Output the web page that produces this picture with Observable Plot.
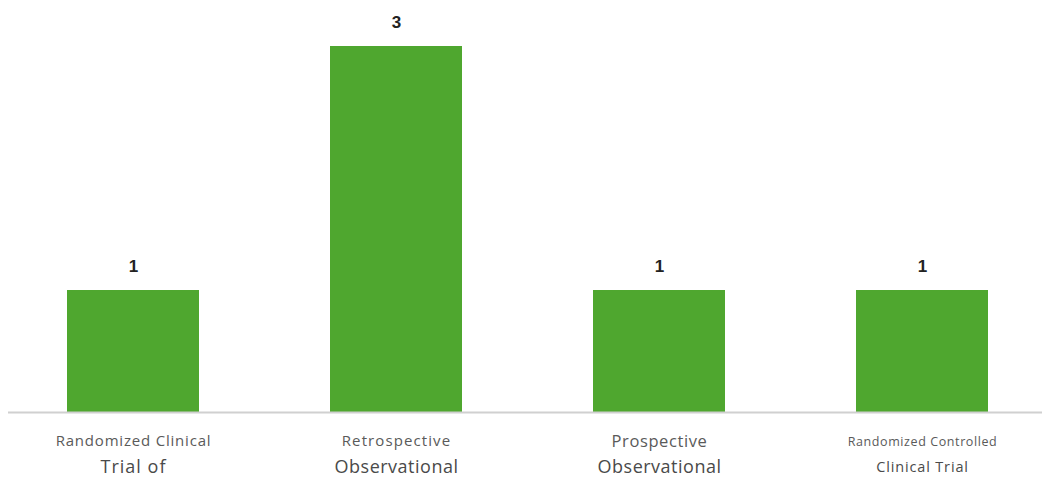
<!DOCTYPE html>
<html>
<head>
<meta charset="utf-8">
<script src="https://cdn.jsdelivr.net/npm/d3@7"></script>
<script src="https://cdn.jsdelivr.net/npm/@observablehq/plot@0.6"></script>
<style>
  html, body { margin: 0; padding: 0; background: #fff; }
  #chart svg { display: block; }
</style>
</head>
<body>
<div id="chart"></div>
<script>
// Data
const categories = ["Randomized Clinical Trial of", "Retrospective Observational", "Prospective Observational", "Randomized Controlled Clinical Trial"];
const counts = [1, 3, 1, 1];
const labelLine1 = ["Randomized Clinical", "Retrospective", "Prospective", "Randomized Controlled"];
const labelLine2 = ["Trial of", "Observational", "Observational", "Clinical Trial"];

// Label styling (kept apart from the data)
const line1Style = [{size: 15, ls: 0.8}, {size: 15, ls: 1.1}, {size: 16.5, ls: 0.6}, {size: 12.5, ls: 0.6}];
const line2Style = [{size: 18, ls: 1.0}, {size: 18, ls: 0.5}, {size: 18, ls: 0.5}, {size: 14.5, ls: 0.85}];

const data = categories.map((c, i) => ({category: c, count: counts[i]}));

const withSpacing = ls => function(index, scales, values, dims, context, next) {
  const g = next(index, scales, values, dims, context);
  if (g) g.setAttribute("letter-spacing", ls);
  return g;
};

const labelMarks = categories.flatMap((c, i) => [
  Plot.text([{category: c, text: labelLine1[i]}], {
    x: "category", y: () => 0, text: "text", dy: 29,
    fontSize: line1Style[i].size, fill: "#5a5a5a", render: withSpacing(line1Style[i].ls)
  }),
  Plot.text([{category: c, text: labelLine2[i]}], {
    x: "category", y: () => 0, text: "text", dy: 55,
    fontSize: line2Style[i].size, fill: "#4a4a4a", render: withSpacing(line2Style[i].ls)
  })
]);

const chart = Plot.plot({
  width: 1042,
  height: 477,
  marginLeft: 8,
  marginRight: 0,
  marginTop: 46,
  marginBottom: 65,
  style: {fontFamily: "'Open Sans', sans-serif", background: "#fff"},
  x: {domain: categories, range: [0, 1055], paddingInner: 0.5, paddingOuter: 0.25, axis: null},
  y: {domain: [0, 3], axis: null},
  marks: [
    Plot.barY(data, {x: "category", y: "count", fill: "#4fa72f"}),
    Plot.ruleY([0], {stroke: "#d0d0d0", strokeWidth: 2}),
    Plot.text(data, {x: "category", y: "count", text: d => String(d.count), dy: -24, fontSize: 17, fontWeight: "bold", fill: "#222", fontFamily: "'Liberation Sans', Arial, sans-serif"}),
    ...labelMarks
  ]
});
document.getElementById("chart").appendChild(chart);
</script>
</body>
</html>
